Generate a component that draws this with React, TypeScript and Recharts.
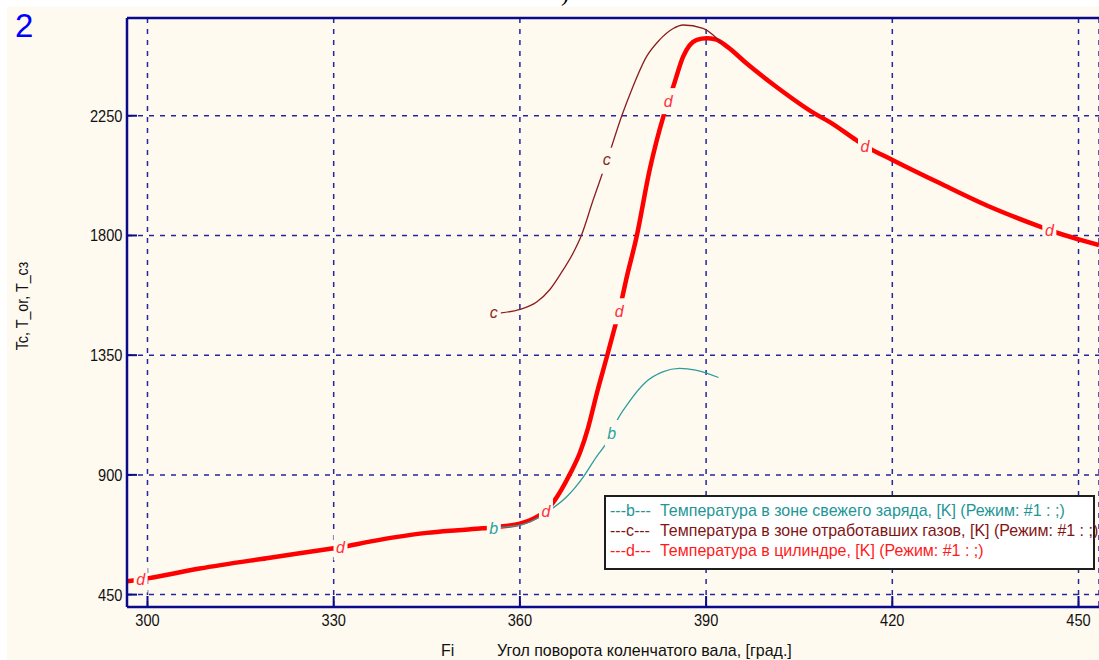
import React from 'react';
import {
  ComposedChart,
  Line,
  Scatter,
  XAxis,
  YAxis,
  CartesianGrid,
  ReferenceLine,
} from 'recharts';

// Crank angle axis, degrees
const angleTicks = [300, 330, 360, 390, 420, 450];
const angleDomain: [number, number] = [296.7, 453.3];

// Temperature axis, K
const tempTicks = [450, 900, 1350, 1800, 2250];
const tempDomain: [number, number] = [403.4, 2617.4];

// d: temperature in the cylinder
const dAngle = [
  296.7, 298.9, 300, 308.4, 319.2, 330, 331.1, 336, 340, 345, 350, 354, 357, 360, 362.7, 364.2,
  365.4, 368.1, 369.7, 371, 372.4, 374, 375.3, 376, 376.4, 377.1, 378.8, 380.9, 383.1, 383.9,
  384.7, 386.3, 388.5, 390.1, 391.5, 393.5, 396.5, 401.3, 407.5, 410, 414.2, 415.6, 420.1, 427.7,
  435.7, 443.8, 445.3, 453.3,
];
const dTemp = [
  500, 507, 511, 548, 587, 624, 628, 650, 666, 682, 692, 699, 706, 717, 742, 766,
  798, 905, 985, 1078, 1207, 1343, 1456, 1515, 1557, 1632, 1795, 2046, 2246, 2305,
  2359, 2472, 2535, 2541, 2537, 2508, 2447, 2359, 2258, 2225, 2158, 2137, 2083, 1996,
  1908, 1833, 1820, 1764,
];
const dLabelAt = [298.9, 331.1, 364.2, 376, 383.9, 415.6, 445.3];

// c: temperature in the burnt gas zone
const cAngle = [
  355.8, 357, 360, 362.7, 364.8, 366.4, 368.6, 369.9, 371.8, 373.2, 374, 374.5, 376.4, 378,
  380.4, 382.5, 384.7, 386.3, 389.5, 391.7, 392.5,
];
const cTemp = [
  1507, 1509, 1522, 1550, 1596, 1650, 1735, 1800, 1933, 2027, 2081, 2115, 2249, 2347,
  2472, 2535, 2578, 2591, 2578, 2541, 2522,
];
const cLabelAt = [355.8, 374];

// b: temperature in the fresh charge zone
const bAngle = [
  355.8, 357.3, 360, 362.7, 364.8, 367.5, 370.2, 372.3, 374, 374.8, 375.4, 377.6, 380.3, 383,
  385.7, 388.3, 392,
];
const bTemp = [
  702, 704, 711, 736, 767, 817, 892, 967, 1022, 1057, 1092, 1174, 1249, 1287,
  1300, 1294, 1266,
];
const bLabelAt = [355.8, 374.8];

const legendRows = [
  { tag: '---b---', text: 'Температура в зоне свежего заряда, [K] (Режим: #1 : ;)', color: '#1e9696' },
  { tag: '---c---', text: 'Температура в зоне отработавших газов, [K] (Режим: #1 : ;)', color: '#821414' },
  { tag: '---d---', text: 'Температура в цилиндре, [K] (Режим: #1 : ;)', color: '#ff1a1a' },
];

type Row = { angle: number; temp: number };
const zip = (a: number[], t: number[]): Row[] => a.map((angle, i) => ({ angle, temp: t[i] }));
const pick = (rows: Row[], at: number[]) => rows.filter((r) => at.includes(r.angle));

const dRows = zip(dAngle, dTemp);
const cRows = zip(cAngle, cTemp);
const bRows = zip(bAngle, bTemp);

const FONT = "'Liberation Sans', Arial, sans-serif";
const CREAM = '#fffaf0';
const AXIS = '#0a0a8c';
const GRID = '#26269c';
const RED = '#ff0000';
const TEAL = '#2a9d9d';
const MAROON = '#8a1e1e';

// Tick labels use a slightly condensed face
const YTick = (p: any) => (
  <g>
    <line x1={p.x} x2={p.x + 10} y1={p.y} y2={p.y} stroke={AXIS} strokeWidth={2} />
    <text
      transform={`translate(${p.x - 4.5},${p.y + 6}) scale(0.86,1)`}
      textAnchor="end"
      fontFamily={FONT}
      fontSize={17}
      fill="#111"
    >
      {p.payload.value}
    </text>
  </g>
);

const XTick = (p: any) => (
  <g>
    <line x1={p.x} x2={p.x} y1={p.y} y2={p.y - 11} stroke={AXIS} strokeWidth={2} />
    <text
      transform={`translate(${p.x},${p.y + 19}) scale(0.86,1)`}
      textAnchor="middle"
      fontFamily={FONT}
      fontSize={17}
      fill="#111"
    >
      {p.payload.value}
    </text>
  </g>
);

// Series letter drawn on the curve, with a gap cut into the line behind it
const tagShape = (letter: string, color: string, lift: number) => (p: any) => (
  <g>
    <rect x={p.cx - 7} y={p.cy - 13} width={14} height={26} fill={CREAM} />
    <text
      x={p.cx}
      y={p.cy + lift}
      textAnchor="middle"
      fontFamily={FONT}
      fontStyle="italic"
      fontSize={16}
      fill={color}
    >
      {letter}
    </text>
  </g>
);

const condensed = (left: number, top: number, size: number): React.CSSProperties => ({
  position: 'absolute',
  left,
  top,
  fontFamily: FONT,
  fontSize: size,
  lineHeight: `${size}px`,
  color: '#111',
  whiteSpace: 'nowrap',
  transform: 'scaleX(0.94)',
  transformOrigin: '0 0',
});

export default function App() {
  return (
    <div
      style={{
        position: 'absolute',
        left: 0,
        top: 0,
        width: 1099,
        height: 660,
        background: '#ffffff',
        overflow: 'hidden',
      }}
    >
      <div
        style={{
          position: 'absolute',
          left: 561,
          top: -19,
          fontFamily: "'Liberation Serif', serif",
          fontSize: 24,
          lineHeight: '24px',
          color: '#000',
        }}
      >
        )
      </div>
      <div
        style={{
          position: 'absolute',
          left: 7,
          top: 7,
          width: 1092,
          height: 653,
          background: CREAM,
        }}
      >
        <ComposedChart width={1092} height={653} margin={{ top: 11, right: 0, bottom: 0, left: 0 }}>
          <CartesianGrid stroke={GRID} strokeDasharray="5 6" strokeWidth={1.5} />
          <XAxis
            dataKey="angle"
            type="number"
            domain={angleDomain}
            allowDataOverflow
            ticks={angleTicks}
            interval={0}
            height={53}
            tickSize={0}
            tickMargin={0}
            tickLine={false}
            tick={XTick}
            axisLine={{ stroke: AXIS, strokeWidth: 2.5 }}
          />
          <YAxis
            type="number"
            domain={tempDomain}
            allowDataOverflow
            ticks={tempTicks}
            interval={0}
            width={120}
            tickSize={0}
            tickMargin={0}
            tickLine={false}
            tick={YTick}
            axisLine={{ stroke: AXIS, strokeWidth: 2.5 }}
          />
          <ReferenceLine y={tempDomain[1]} stroke={AXIS} strokeWidth={2.5} />
          <Line
            data={dRows}
            dataKey="temp"
            type="monotone"
            stroke={RED}
            strokeWidth={4.5}
            dot={false}
            isAnimationActive={false}
          />
          <Line
            data={cRows}
            dataKey="temp"
            type="monotone"
            stroke={MAROON}
            strokeWidth={1.3}
            dot={false}
            isAnimationActive={false}
          />
          <Line
            data={bRows}
            dataKey="temp"
            type="monotone"
            stroke={TEAL}
            strokeWidth={1.3}
            dot={false}
            isAnimationActive={false}
          />
          <Scatter
            data={pick(dRows, dLabelAt)}
            dataKey="temp"
            shape={tagShape('d', '#ff3040', 6)}
            isAnimationActive={false}
          />
          <Scatter
            data={pick(cRows, cLabelAt)}
            dataKey="temp"
            shape={tagShape('c', '#8a2a2a', 4.5)}
            isAnimationActive={false}
          />
          <Scatter
            data={pick(bRows, bLabelAt)}
            dataKey="temp"
            shape={tagShape('b', '#2aa2a2', 6)}
            isAnimationActive={false}
          />
        </ComposedChart>

        <div
          style={{
            position: 'absolute',
            left: 8,
            top: 1.7,
            fontFamily: FONT,
            fontSize: 33,
            lineHeight: '33px',
            color: '#0000ff',
          }}
        >
          2
        </div>

        <div
          style={{
            position: 'absolute',
            left: 14.5,
            top: 298.5,
            transform: 'translate(-50%, -50%) rotate(-90deg) scaleX(0.84)',
            whiteSpace: 'nowrap',
            fontFamily: FONT,
            fontSize: 17,
            lineHeight: '17px',
            color: '#111',
          }}
        >
          Tc, T_or, T_cз
        </div>

        <div style={condensed(434, 634.6, 17)}>Fi</div>
        <div style={condensed(489.5, 634.6, 17)}>Угол поворота коленчатого вала, [град.]</div>

        <div
          style={{
            position: 'absolute',
            left: 597,
            top: 488,
            width: 491,
            height: 75,
            boxSizing: 'border-box',
            border: '2px solid #1e1e1e',
            background: '#ffffff',
          }}
        >
          {legendRows.map((r, i) => (
            <React.Fragment key={r.tag}>
              <div style={{ ...condensed(4, 4.6 + i * 20.25, 17), color: r.color }}>{r.tag}</div>
              <div style={{ ...condensed(54, 4.6 + i * 20.25, 17), color: r.color }}>{r.text}</div>
            </React.Fragment>
          ))}
        </div>
      </div>
    </div>
  );
}
